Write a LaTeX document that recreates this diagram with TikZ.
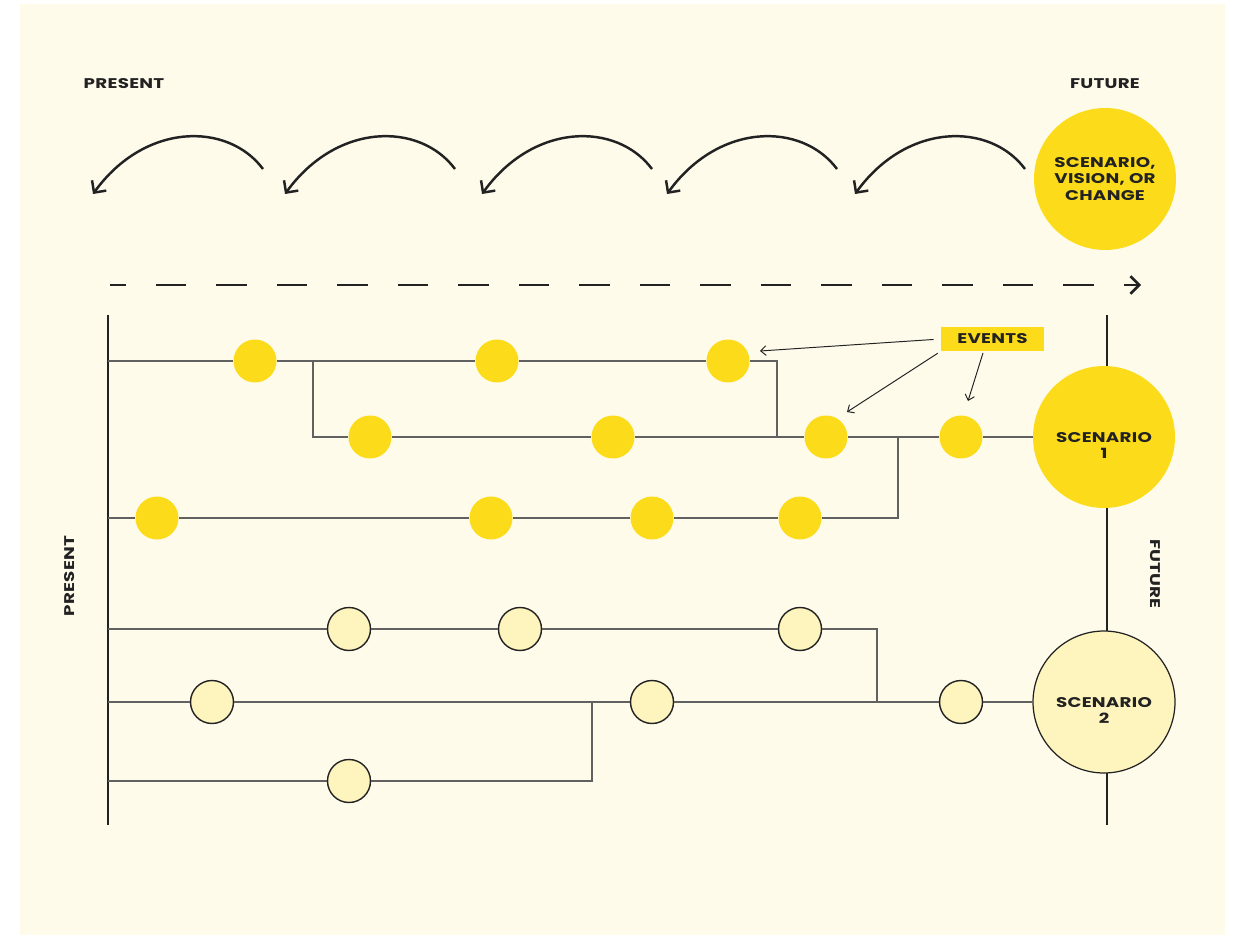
\documentclass[tikz,border=0pt]{standalone}
\usepackage{fontspec}
\newfontfamily\capsfont{Poppins}[FakeStretch=1.3,LetterSpace=2]
\usetikzlibrary{arrows.meta}
\definecolor{cream}{HTML}{FEFBEB}
\definecolor{sunny}{HTML}{FCDC1A}
\definecolor{pale}{HTML}{FDF4BE}
\definecolor{ink}{HTML}{222222}
\tikzset{
  lbl/.style={font=\capsfont\bfseries\fontsize{8}{9.5}\selectfont, text=ink, align=center},
  event/.style={circle, fill=sunny, minimum size=0.86cm, inner sep=0pt},
  faded/.style={circle, fill=pale, draw=ink, line width=0.8pt, minimum size=0.86cm, inner sep=0pt},
  goal/.style={circle, fill=sunny, minimum size=2.84cm, inner sep=0pt, lbl},
  goalpale/.style={goal, fill=pale, draw=ink, line width=0.7pt},
  track/.style={line width=0.7pt, draw=black!62},
  timeline/.style={line width=1.6pt, draw=ink},
  pointer/.style={line width=0.55pt, draw=ink, -{Straight Barb[length=3pt,width=5.5pt]}},
  backarc/.style={line width=1.4pt, draw=ink, -{Straight Barb[length=5pt,width=10pt]}},
}
\begin{document}
\begin{tikzpicture}[x=0.02cm, y=-0.02cm]
  % Fondo
  \useasboundingbox (0,0) rectangle (1236,935);
  \fill[white] (0,0) rectangle (1236,935);
  \fill[cream] (20,4) rectangle (1225,935);
  % Backcasting arcs
  \node[lbl] (present) at (124,84) {PRESENT};
  \node[lbl] (future) at (1105,84) {FUTURE};
  \node[goal] (vision) at (1105,179) {SCENARIO,\\VISION, OR\\CHANGE};
  \foreach \s in {263,455,652,837,1025}{
    \draw[backarc] (\s,169) .. controls ({\s-35},122) and ({\s-118},122) .. ({\s-170},194);
  }
  % Dashed time arrow
  \coordinate (tstart) at (110,285);
  \coordinate (tend) at (1141,285);
  \draw[line width=1.5pt, draw=ink, dash pattern=on 0.61cm off 0.6cm, dash phase=0.29cm,
        -{Straight Barb[length=5pt,width=10pt]}] (tstart) -- (tend);
  % Side labels
  \node[lbl, rotate=90] (presentside) at (70,576) {PRESENT};
  \node[lbl, rotate=-90] (futureside) at (1155,574) {FUTURE};
  % Present and future axes
  \coordinate (pres0) at (108,315);
  \coordinate (pres1) at (108,825);
  \coordinate (fut0) at (1107,315);
  \coordinate (fut1) at (1107,825);
  \draw[timeline] (pres0) -- (pres1);
  \draw[timeline] (fut0) -- (fut1);
  % Scenarios
  \node[goal] (s1) at (1104,437) {\vphantom{S}\\SCENARIO\\1};
  \node[goalpale] (s2) at (1104,702) {\vphantom{S}\\SCENARIO\\2};
  % Events toward scenario 1
  \foreach \n/\xi/\yi in {a1/255/361, a2/497/361, a3/728/361,
      b1/370/437, b2/613/437, b3/826/437, b4/961/437,
      c1/157/518, c2/491/518, c3/652/518, c4/800/518}{
    \node[event] (\n) at (\xi,\yi) {};
  }
  % Events toward scenario 2
  \foreach \n/\xi/\yi in {d1/349/629, d2/520/629, d3/800/629,
      e1/212/702, e2/652/702, e3/961/702, f1/349/781}{
    \node[faded] (\n) at (\xi,\yi) {};
  }
  % Branch points
  \coordinate (ra) at (108,361);
  \coordinate (rc) at (108,518);
  \coordinate (rd) at (108,629);
  \coordinate (re) at (108,702);
  \coordinate (rf) at (108,781);
  \coordinate (ja) at (313,361);
  \coordinate (jb) at (313,437);
  \coordinate (ka) at (777,361);
  \coordinate (kb) at (777,437);
  \coordinate (lb) at (898,437);
  \coordinate (lc) at (898,518);
  \coordinate (md) at (877,629);
  \coordinate (me) at (877,702);
  \coordinate (ne) at (592,702);
  \coordinate (nf) at (592,781);
  \draw[track] (ra) -- (a1) -- (ja) -- (a2) -- (a3) -- (ka) -- (kb);
  \draw[track] (ja) -- (jb) -- (b1) -- (b2) -- (kb) -- (b3) -- (lb) -- (b4) -- (s1);
  \draw[track] (rc) -- (c1) -- (c2) -- (c3) -- (c4) -- (lc) -- (lb);
  \draw[track] (rd) -- (d1) -- (d2) -- (d3) -- (md) -- (me);
  \draw[track] (re) -- (e1) -- (ne) -- (e2) -- (me) -- (e3) -- (s2);
  \draw[track] (rf) -- (f1) -- (nf) -- (ne);
  % Events callout
  \node[lbl, fill=sunny, minimum width=2.06cm, minimum height=0.48cm, inner sep=0pt] (events) at (992.5,339) {EVENTS};
  \coordinate (t1) at (760,351);
  \coordinate (t2) at (847,412);
  \coordinate (t3) at (968,401);
  \draw[pointer, shorten <=4pt] (events.west) -- (t1);
  \draw[pointer, shorten <=2pt] (events.south west) -- (t2);
  \draw[pointer, shorten <=1pt] ([xshift=-0.18cm]events.south) -- (t3);
\end{tikzpicture}
\end{document}
